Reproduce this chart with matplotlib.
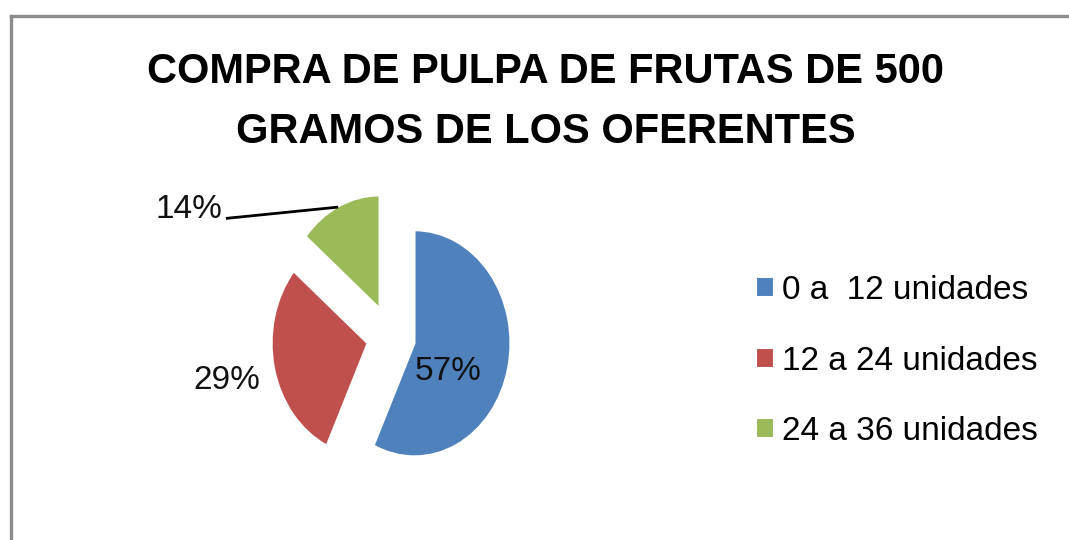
import matplotlib
matplotlib.use("Agg")
import matplotlib.pyplot as plt
from matplotlib import font_manager
from matplotlib.lines import Line2D

# datos
categorias = ["0 a  12 unidades", "12 a 24 unidades", "24 a 36 unidades"]
porcentajes = [57, 29, 14]
etiquetas = ["57%", "29%", "14%"]
colores = ["#4F81BD", "#C0504D", "#9BBB59"]
separacion = [0.25, 0.25, 0.28]

titulo = "COMPRA DE PULPA DE FRUTAS DE 500\nGRAMOS DE LOS OFERENTES"

nombres = {f.name for f in font_manager.fontManager.ttflist}
if "Liberation Sans Narrow" in nombres:
    fuente_titulo, tam_titulo = "Liberation Sans Narrow", 36
else:
    fuente_titulo, tam_titulo = "Liberation Sans", 30
fuente = "Liberation Sans"

fig = plt.figure(figsize=(10.69, 5.40), dpi=100)
fig.patch.set_facecolor("white")

# marco gris del area del grafico (cortado a la derecha y abajo)
fig.add_artist(Line2D([10.5 / 1069, 1.0], [1 - 15.5 / 540, 1 - 15.5 / 540],
                      color="#8c8c8c", lw=2.4, transform=fig.transFigure))
fig.add_artist(Line2D([10.5 / 1069, 10.5 / 1069], [0.0, 1 - 15.5 / 540],
                      color="#8c8c8c", lw=2.4, transform=fig.transFigure))

fig.text(546 / 1069, 1 - 102 / 540, titulo, ha="center", va="center",
         fontsize=tam_titulo, fontweight="bold", family=fuente_titulo,
         linespacing=1.65)

# pastel (algo mas alto que ancho, como en la imagen)
ax = fig.add_axes([0.2221, 0.0407, 0.2874, 0.670])
cunas, _ = ax.pie(porcentajes, colors=colores, explode=separacion,
                  startangle=90, counterclock=False,
                  wedgeprops=dict(edgecolor="white", linewidth=1.5))
ax.set_aspect("auto")
ax.set_xlim(-1.6, 1.6)
ax.set_ylim(-1.6, 1.6)
ax.axis("off")

ax.text(0.59, -0.30, etiquetas[0], ha="center", va="center",
        fontsize=24, family=fuente, color="#111111")
ax.text(-1.71, -0.38, etiquetas[1], ha="center", va="center",
        fontsize=24, family=fuente, color="#111111")
ax.text(-1.76, 1.05, etiquetas[2], ha="right", va="baseline",
        fontsize=24, family=fuente, color="#111111")
ax.plot([-1.72, -0.55], [1.05, 1.15], color="black", lw=2,
        solid_capstyle="butt", clip_on=False)

fig.legend(cunas, categorias, loc="center left",
           bbox_to_anchor=(726 / 1069, 1 - 361 / 540), frameon=False,
           prop=dict(family=fuente, size=24), handlelength=0.55,
           handleheight=0.55, handletextpad=0.22, labelspacing=1.18)

fig.savefig("out.png", dpi=100, facecolor="white")
